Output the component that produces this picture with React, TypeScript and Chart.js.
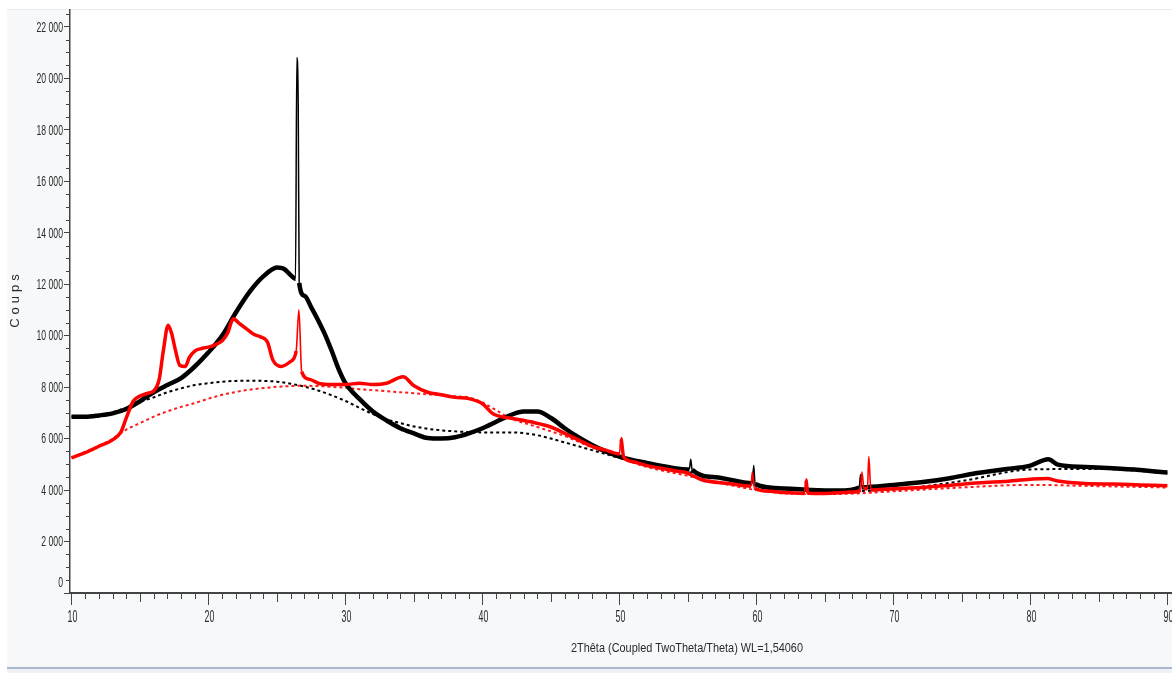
import { useEffect, useRef } from "react";
import { Chart, registerables } from "chart.js";

Chart.register(...registerables);

// Diffractogram of sample 1 (black) — 2θ in degrees, intensity in counts
const blackAngles = [
  10, 11, 12, 13, 14, 15, 16, 17, 18, 19, 20, 21, 22, 23, 24, 25, 25.5, 26,
  26.35, 26.45, 26.55, 26.62, 27, 27.5, 28, 28.5, 29, 29.5, 30, 31, 32, 33, 34,
  35, 36, 37, 38, 39, 40, 41, 42, 43, 44, 45, 46, 47, 48, 49, 50, 52, 54, 55.1,
  55.2, 55.3, 57, 59.7, 59.8, 59.9, 62, 64, 66, 67.5, 67.6, 67.7, 70, 72, 74,
  76, 78, 80, 81.3, 82, 84, 86, 88, 90,
];
const blackCounts = [
  6850, 6850, 6900, 6980, 7150, 7450, 7800, 8080, 8350, 8800, 9350, 10000,
  10900, 11700, 12300, 12650, 12600, 12350, 12200, 20800, 18900, 12050, 11550,
  11100, 10600, 10050, 9400, 8700, 8150, 7550, 7050, 6700, 6400, 6200, 6020,
  6000, 6050, 6200, 6400, 6650, 6900, 7050, 7050, 6800, 6400, 6050, 5750, 5500,
  5300, 5050, 4850, 4800, 5200, 4790, 4500, 4260, 4950, 4230, 4060, 4000, 3980,
  4100, 4600, 4110, 4200, 4300, 4450, 4650, 4800, 4950, 5200, 4990, 4900, 4850,
  4780, 4680,
];

// Diffractogram of sample 2 (red)
const redAngles = [
  10, 11, 12, 13, 13.6, 14, 14.5, 15, 15.5, 16, 16.4, 16.7, 17.05, 17.3, 17.6,
  17.9, 18.3, 18.6, 19, 19.5, 20, 20.5, 21, 21.4, 21.8, 22.3, 22.8, 23.3, 23.8,
  24.3, 24.7, 25.3, 26, 26.4, 26.6, 26.8, 27.4, 28, 29, 30, 31, 32, 33, 34.2, 35,
  36, 37, 38, 39, 40, 40.8, 42, 43.5, 45, 46, 47, 48, 49, 50, 50.1, 50.3, 51, 52,
  53, 54, 54.7, 55, 56, 58, 59.6, 59.7, 59.85, 61, 62, 63.5, 63.6, 63.75, 65, 67,
  67.6, 67.7, 67.85, 68.1, 68.2, 68.35, 70, 72, 74, 76, 78, 80, 81.2, 82, 84, 86,
  88, 90,
];
const redCounts = [
  5250, 5450, 5700, 5950, 6250, 6800, 7450, 7650, 7750, 7850, 8300, 9400, 10400,
  10100, 9400, 8850, 8800, 9150, 9400, 9500, 9550, 9650, 9800, 10100, 10650,
  10450, 10250, 10050, 9950, 9750, 9050, 8800, 9000, 9400, 11000, 8600, 8300,
  8150, 8100, 8100, 8150, 8100, 8150, 8400, 8050, 7800, 7700, 7600, 7550, 7350,
  6950, 6800, 6650, 6450, 6200, 5950, 5700, 5550, 5400, 6000, 5300, 5100, 4950,
  4850, 4750, 4700, 4650, 4400, 4250, 4150, 4700, 4080, 3950, 3900, 3870, 4400,
  3880, 3870, 3920, 4000, 4700, 4050, 4050, 5300, 4000, 4050, 4100, 4180, 4270,
  4330, 4420, 4450, 4350, 4250, 4230, 4200, 4170,
];

// Fitted backgrounds (dotted)
const blackBgAngles = [
  10, 12, 14, 15, 16, 17, 18, 19, 20, 21, 22, 23, 24, 25, 26, 27, 28, 29, 30, 31,
  32, 33, 34, 35, 36, 37, 38, 39, 40, 41, 42, 43, 44, 45, 46, 47, 48, 50, 52, 55,
  58, 60, 63, 66, 70, 75, 80, 85, 90,
];
const blackBgCounts = [
  6850, 6900, 7200, 7420, 7600, 7800, 7950, 8080, 8150, 8210, 8240, 8250, 8240,
  8210, 8130, 8020, 7870, 7680, 7460, 7200, 6950, 6750, 6600, 6470, 6380, 6320,
  6280, 6250, 6240, 6240, 6240, 6210, 6130, 6000, 5850, 5700, 5550, 5250, 5000,
  4700, 4400, 4200, 4020, 3960, 4020, 4350, 4800, 4820, 4650,
];
const redBgAngles = [
  10, 11, 12, 13, 14, 15, 16, 17, 18, 19, 20, 21, 22, 23, 24, 25, 26, 27, 28, 29,
  30, 31, 32, 33, 34, 35, 36, 37, 38, 39, 40, 41, 42, 44, 46, 48, 50, 52, 55, 58,
  60, 63, 66, 70, 75, 80, 85, 90,
];
const redBgCounts = [
  5250, 5480, 5720, 5980, 6350, 6600, 6850, 7060, 7230, 7380, 7550, 7700, 7810,
  7900, 7960, 8010, 8040, 8050, 8040, 8010, 7970, 7920, 7880, 7840, 7800, 7760,
  7720, 7680, 7640, 7600, 7400, 7100, 6800, 6450, 6100, 5650, 5250, 4900, 4550,
  4200, 4000, 3850, 3850, 3950, 4100, 4200, 4150, 4100,
];

const xTickValues = [10, 20, 30, 40, 50, 60, 70, 80, 90];
const yTickValues = [0, 2000, 4000, 6000, 8000, 10000, 12000, 14000, 16000, 18000, 20000, 22000];

const xTitle = "2Thêta (Coupled TwoTheta/Theta) WL=1,54060";
const yTitle = "Coups";

const SANS = "'Liberation Sans', Arial, sans-serif";
const TEXT = "#2b2b2b";

const toPoints = (xs: number[], ys: number[]) => xs.map((x, i) => ({ x, y: ys[i] }));

const formatCount = (v: number) => String(v).replace(/\B(?=(\d{3})+(?!\d))/g, " ");

// Sharp reflections are drawn with a fine pen, the noisy profile with a broad one
const steepWidth = (limit: number, thin: number) => (ctx: any) => {
  const dx = Math.abs(ctx.p1.parsed.x - ctx.p0.parsed.x) || 1e-6;
  const dy = Math.abs(ctx.p1.parsed.y - ctx.p0.parsed.y);
  return dy / dx > limit ? thin : undefined;
};

// Condensed lettering: draw text squeezed horizontally around its anchor
const squeezedText = (
  ctx: CanvasRenderingContext2D,
  text: string,
  x: number,
  y: number,
  sx: number,
  align: CanvasTextAlign,
) => {
  ctx.save();
  ctx.translate(x, y);
  ctx.scale(sx, 1);
  ctx.textAlign = align;
  ctx.fillText(text, 0, 0);
  ctx.restore();
};

const framePlugin = {
  id: "frame",
  beforeDraw(chart: any) {
    const { ctx, width, height, chartArea } = chart;
    ctx.save();
    ctx.fillStyle = "#ffffff";
    ctx.fillRect(0, 0, width, height);
    ctx.fillStyle = "#f7f8fa";
    ctx.fillRect(7, 9, width - 7, 658);
    ctx.fillStyle = "#ffffff";
    ctx.fillRect(chartArea.left, chartArea.top, width - chartArea.left, chartArea.bottom - chartArea.top);
    ctx.fillStyle = "#e9ebee";
    ctx.fillRect(7, 9, width - 7, 1);
    ctx.fillStyle = "#a9b8cc";
    ctx.fillRect(7, 667, width - 7, 2);
    ctx.fillStyle = "#eef1f5";
    ctx.fillRect(7, 669, width - 7, 4);
    ctx.restore();
  },
  afterDraw(chart: any) {
    const { ctx, chartArea } = chart;
    const xs = chart.scales.x;
    const ys = chart.scales.y;
    ctx.save();
    ctx.strokeStyle = "#444";
    ctx.lineWidth = 1;
    // minor ticks on the 2θ axis: every degree, longer at every 5°
    for (let a = 10; a <= 90; a += 1) {
      if (a % 10 === 0) continue;
      const px = Math.round(xs.getPixelForValue(a)) + 0.5;
      const len = a % 5 === 0 ? 9 : 6;
      ctx.beginPath();
      ctx.moveTo(px, chartArea.bottom);
      ctx.lineTo(px, chartArea.bottom + len);
      ctx.stroke();
    }
    // minor ticks on the count axis: every 500
    for (let v = 500; v <= 22500; v += 500) {
      if (v % 2000 === 0) continue;
      const py = Math.round(ys.getPixelForValue(v)) + 0.5;
      ctx.beginPath();
      ctx.moveTo(chartArea.left - 4, py);
      ctx.lineTo(chartArea.left, py);
      ctx.stroke();
    }

    ctx.fillStyle = TEXT;
    // 2θ tick labels
    ctx.font = `16px ${SANS}`;
    ctx.textBaseline = "top";
    for (const a of xTickValues) {
      squeezedText(ctx, String(a), xs.getPixelForValue(a) + 1, chartArea.bottom + 17, 0.55, "center");
    }
    // count tick labels (the zero label sits just clear of the 2θ axis)
    ctx.font = `14px ${SANS}`;
    ctx.textBaseline = "middle";
    for (const v of yTickValues) {
      const py = Math.min(ys.getPixelForValue(v), chartArea.bottom - 11);
      squeezedText(ctx, formatCount(v), chartArea.left - 7, py + 1, 0.62, "right");
    }

    // axis titles
    ctx.font = `13px ${SANS}`;
    ctx.textBaseline = "middle";
    const w = ctx.measureText(xTitle).width;
    squeezedText(ctx, xTitle, 687, 648, 232 / w, "center");
    ctx.translate(15, 301);
    ctx.rotate(-Math.PI / 2);
    ctx.font = `13px ${SANS}`;
    (ctx as any).letterSpacing = "4px";
    ctx.textAlign = "center";
    ctx.fillText(yTitle, 2, 0);
    ctx.restore();
  },
};

export default function App() {
  const canvasRef = useRef<HTMLCanvasElement>(null);

  useEffect(() => {
    const canvas = canvasRef.current;
    if (!canvas) return;
    const chart = new Chart(canvas, {
      type: "line",
      data: {
        datasets: [
          {
            label: "Échantillon 2",
            data: toPoints(redAngles, redCounts),
            borderColor: "#ff0000",
            borderWidth: 3.5,
            pointRadius: 0,
            cubicInterpolationMode: "monotone",
            segment: { borderWidth: steepWidth(4000, 1.6) },
            order: 0,
          },
          {
            label: "Échantillon 1",
            data: toPoints(blackAngles, blackCounts),
            borderColor: "#000000",
            borderWidth: 4.5,
            pointRadius: 0,
            cubicInterpolationMode: "monotone",
            segment: { borderWidth: steepWidth(1800, 1.5) },
            order: 1,
          },
          {
            label: "Fond 2",
            data: toPoints(redBgAngles, redBgCounts),
            borderColor: "#ff1a1a",
            borderWidth: 2,
            borderDash: [3, 3],
            pointRadius: 0,
            cubicInterpolationMode: "monotone",
            order: 2,
          },
          {
            label: "Fond 1",
            data: toPoints(blackBgAngles, blackBgCounts),
            borderColor: "#000000",
            borderWidth: 2,
            borderDash: [3, 3],
            pointRadius: 0,
            cubicInterpolationMode: "monotone",
            order: 3,
          },
        ],
      },
      options: {
        animation: false,
        responsive: false,
        devicePixelRatio: 1,
        layout: { padding: { left: 7, top: 10, right: 1, bottom: 0 } },
        plugins: { legend: { display: false }, tooltip: { enabled: false } },
        scales: {
          x: {
            type: "linear",
            min: 9.89,
            max: 90.26,
            afterBuildTicks: (s: any) => {
              s.ticks = xTickValues.map((value) => ({ value }));
            },
            afterFit: (s: any) => {
              s.height = 80;
            },
            grid: { display: true, drawOnChartArea: false, drawTicks: true, tickLength: 12, color: "#444", lineWidth: 1 },
            border: { display: true, color: "#444", width: 2 },
            ticks: { display: false },
          },
          y: {
            type: "linear",
            min: 0,
            max: 22650,
            afterBuildTicks: (s: any) => {
              s.ticks = yTickValues.map((value) => ({ value }));
            },
            afterFit: (s: any) => {
              s.width = 63;
            },
            grid: { display: true, drawOnChartArea: false, drawTicks: true, tickLength: 6, color: "#444", lineWidth: 1 },
            border: { display: true, color: "#444", width: 1.5 },
            ticks: { display: false },
          },
        },
      },
      plugins: [framePlugin],
    });
    return () => chart.destroy();
  }, []);

  return (
    <div style={{ position: "fixed", left: 0, top: 0, width: 1172, height: 673 }}>
      <canvas ref={canvasRef} width={1172} height={673} style={{ display: "block" }} />
    </div>
  );
}
